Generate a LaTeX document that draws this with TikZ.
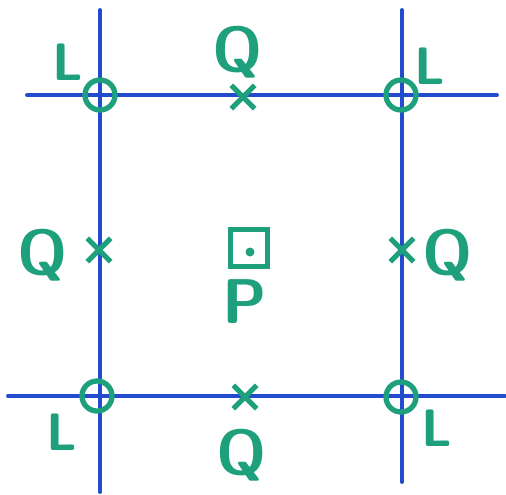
\documentclass[tikz,border=0pt]{standalone}
\usepackage{tikz}
\usetikzlibrary{shapes.misc, positioning}
\definecolor{gridblue}{RGB}{35,75,205}
\definecolor{markgreen}{RGB}{30,160,125}

\begin{document}
\begin{tikzpicture}[x=0.02cm, y=-0.02cm,
    gridline/.style={draw=gridblue, line width=2.2pt, line cap=round},
    lnode/.style={circle, draw=markgreen, line width=3pt, minimum size=0.6cm, inner sep=0pt},
    qnode/.style={cross out, draw=markgreen, line width=3pt, minimum size=0.36cm, inner sep=0pt},
    lbl/.style={text=markgreen, font=\fontsize{30}{32}\sffamily\bfseries, inner sep=0pt}]
    \useasboundingbox (0,0) rectangle (506,494);

    % Grid end points
    \coordinate (vl top) at (100,10);  \coordinate (vl bot) at (100,492);
    \coordinate (vr top) at (402,10);  \coordinate (vr bot) at (402,482);
    \coordinate (ht left) at (27,95);  \coordinate (ht right) at (497,95);
    \coordinate (hb left) at (8,396);  \coordinate (hb right) at (505,396);

    % Grid lines
    \draw[gridline] (vl top) -- (vl bot);
    \draw[gridline] (vr top) -- (vr bot);
    \draw[gridline] (ht left) -- (ht right);
    \draw[gridline] (hb left) -- (hb right);

    % L points (corners)
    \node[lnode] (l1) at (100,95) {};
    \node[lnode] (l2) at (401,95) {};
    \node[lnode] (l3) at (97,396) {};
    \node[lnode] (l4) at (401,397) {};

    % Q points (edge midpoints)
    \node[qnode] (q1) at (243,97) {};
    \node[qnode] (q2) at (99,250) {};
    \node[qnode] (q3) at (402,250) {};
    \node[qnode] (q4) at (245,397) {};

    % P point (centre)
    \node[draw=markgreen, line width=3pt, minimum size=0.74cm, inner sep=0pt] (p) at (249,248) {};
    \fill[markgreen] (p.center) ++(1,4) circle (0.09cm);

    % Labels
    \node[lbl] (l1 lbl) at (68,62) {L};
    \node[lbl] (l2 lbl) at (430,66) {L};
    \node[lbl] (l3 lbl) at (62,432) {L};
    \node[lbl] (l4 lbl) at (437,428) {L};
    \node[lbl, font=\fontsize{36}{38}\sffamily\bfseries] (q1 lbl) at (238,52) {Q};
    \node[lbl, font=\fontsize{36}{38}\sffamily\bfseries] (q2 lbl) at (43,255) {Q};
    \node[lbl, font=\fontsize{36}{38}\sffamily\bfseries] (q3 lbl) at (448,255) {Q};
    \node[lbl, font=\fontsize{36}{38}\sffamily\bfseries] (q4 lbl) at (242,455) {Q};
    \node[lbl, font=\fontsize{36}{38}\sffamily\bfseries] (p lbl) at (245,302) {P};
\end{tikzpicture}
\end{document}
